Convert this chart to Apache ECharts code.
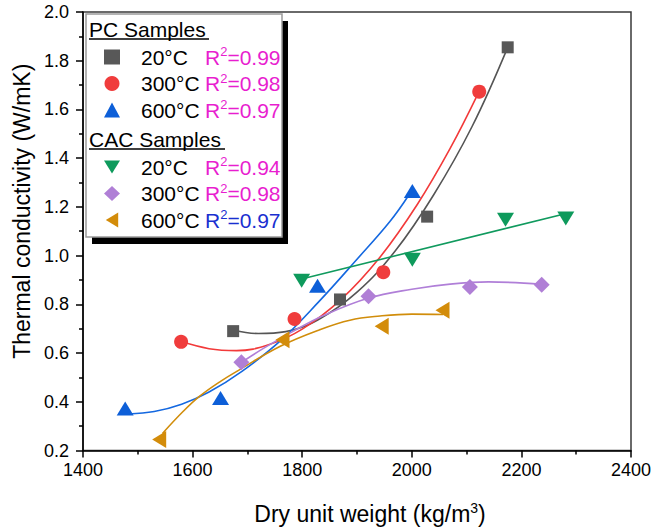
<!DOCTYPE html>
<html>
<head>
<meta charset="utf-8">
<script src="https://cdn.jsdelivr.net/npm/echarts@6/dist/echarts.min.js"></script>
<style>html,body{margin:0;padding:0;background:#fff;}#c{width:657px;height:530px;}</style>
</head>
<body>
<div id="c"></div>
<script>
// ---- measured points ----
var pc20X = [1674, 1869, 2028, 2175];
var pc20Y = [0.69, 0.82, 1.16, 1.855];
var pc300X = [1579, 1786, 1948, 2123];
var pc300Y = [0.646, 0.74, 0.932, 1.673];
var pc600X = [1477, 1651, 1828, 2001];
var pc600Y = [0.372, 0.415, 0.876, 1.265];
var cac20X = [1799, 2001, 2171, 2281];
var cac20Y = [0.897, 0.983, 1.147, 1.152];
var cac300X = [1689, 1921, 2106, 2237];
var cac300Y = [0.562, 0.833, 0.871, 0.88];
var cac600X = [1539, 1764, 1945, 2056];
var cac600Y = [0.245, 0.655, 0.71, 0.776];

// ---- fit curves ----
var pc20FitX = [1675, 1720, 1770, 1830, 1900, 1970, 2040, 2110, 2175];
var pc20FitY = [0.695, 0.68, 0.688, 0.738, 0.85, 1.02, 1.25, 1.53, 1.855];
var pc300FitX = [1578, 1630, 1680, 1740, 1800, 1870, 1940, 2010, 2070, 2122];
var pc300FitY = [0.648, 0.618, 0.61, 0.635, 0.698, 0.818, 0.988, 1.21, 1.44, 1.67];
var pc600FitX = [1483, 1530, 1580, 1630, 1690, 1760, 1830, 1900, 1960, 1995];
var pc600FitY = [0.35, 0.36, 0.39, 0.44, 0.525, 0.65, 0.81, 0.985, 1.14, 1.25];
var cac20FitX = [1797, 2280];
var cac20FitY = [0.903, 1.172];
var cac300FitX = [1688, 1730, 1780, 1840, 1920, 2000, 2070, 2140, 2237];
var cac300FitY = [0.56, 0.62, 0.685, 0.755, 0.825, 0.862, 0.883, 0.892, 0.882];
var cac600FitX = [1545, 1583, 1613, 1651, 1686, 1760, 1832, 1887, 1942, 2000, 2057];
var cac600FitY = [0.27, 0.361, 0.423, 0.484, 0.532, 0.628, 0.696, 0.735, 0.752, 0.76, 0.758];

// ---- legend texts ----
var seriesNames = ['PC 20°C', 'PC 300°C', 'PC 600°C', 'CAC 20°C', 'CAC 300°C', 'CAC 600°C'];
var tempLabels = ['20°C', '300°C', '600°C', '20°C', '300°C', '600°C'];
var r2Labels = ['0.99', '0.98', '0.97', '0.94', '0.98', '0.97'];
var r2Blue = [false, false, false, false, false, true];

// ---- ticks ----
var xTicks = {min: 1400, max: 2400, interval: 200};
var yTicks = {min: 0.2, max: 2.0, interval: 0.2};

var FONT = 'Liberation Sans, Arial, sans-serif';
var MAG = '#e81ecf';
var BLU = '#1a2fd0';

function zip(xs, ys) { return xs.map(function (x, i) { return [x, ys[i]]; }); }

var colors = ['#585858', '#f03c3c', '#0d5fd8', '#0e9a5c', '#b07fd6', '#d38c0a'];
var lineColors = ['#555555', '#f23a3a', '#1468e0', '#109a5e', '#b07fd8', '#d18d0b'];
var symbols = ['rect', 'circle', 'triangle', 'triangle', 'diamond', 'triangle'];
var sizes = [[12, 12], [14, 14], [17, 14], [17, 14], [16, 16], [17, 14]];
var rotates = [0, 0, 0, 180, 0, 90];
var legendIcons = ['rect', 'circle', 'triangle', 'path://M0,0L17,0L8.5,14Z', 'diamond', 'path://M14,0L14,17L0,8.5Z'];
var pts = [zip(pc20X, pc20Y), zip(pc300X, pc300Y), zip(pc600X, pc600Y), zip(cac20X, cac20Y), zip(cac300X, cac300Y), zip(cac600X, cac600Y)];
var fits = [zip(pc20FitX, pc20FitY), zip(pc300FitX, pc300FitY), zip(pc600FitX, pc600FitY), zip(cac20FitX, cac20FitY), zip(cac300FitX, cac300FitY), zip(cac600FitX, cac600FitY)];

var series = [];
fits.forEach(function (d, i) {
  series.push({
    name: seriesNames[i] + ' fit', type: 'line', data: d, smooth: i === 3 ? false : 0.4,
    showSymbol: false, silent: true, z: 2,
    lineStyle: {color: lineColors[i], width: 1.6}
  });
});
pts.forEach(function (d, i) {
  series.push({
    name: seriesNames[i], type: 'scatter', data: d, symbol: symbols[i],
    symbolSize: sizes[i], symbolRotate: rotates[i], z: 3,
    itemStyle: {color: colors[i], opacity: 1}
  });
});

function fmt(name) {
  var i = seriesNames.indexOf(name);
  var b = r2Blue[i];
  return '{p| }{n|' + tempLabels[i] + '}{' + (b ? 'rb' : 'r') + '|R}{' + (b ? 'sb' : 's') + '|2}{' + (b ? 'rb' : 'r') + '|=' + r2Labels[i] + '}';
}
var rich = {
  p: {fontFamily: FONT, fontSize: 21, width: 16, lineHeight: 24},
  n: {fontFamily: FONT, fontSize: 21, color: '#000', width: 64, lineHeight: 24},
  r: {fontFamily: FONT, fontSize: 21, color: MAG, lineHeight: 24},
  s: {fontFamily: FONT, fontSize: 13, color: MAG, lineHeight: 14, verticalAlign: 'top'},
  rb: {fontFamily: FONT, fontSize: 21, color: BLU, lineHeight: 24},
  sb: {fontFamily: FONT, fontSize: 13, color: BLU, lineHeight: 14, verticalAlign: 'top'}
};
function legendCfg(from, to, top) {
  var data = [];
  for (var i = from; i < to; i++) {
    data.push({name: seriesNames[i], icon: legendIcons[i], itemStyle: {color: colors[i]}});
  }
  return {
    data: data, orient: 'vertical', left: 104, top: top, padding: 0,
    itemWidth: 16, itemHeight: 15, itemGap: 4, selectedMode: false, z: 200,
    formatter: fmt, textStyle: {fontFamily: FONT, fontSize: 21, rich: rich}
  };
}

var option = {
  animation: false,
  backgroundColor: '#fff',
  grid: {left: 83, top: 12, right: 26, bottom: 79, show: true, borderColor: '#3a3a3a', borderWidth: 1.5, backgroundColor: 'transparent'},
  xAxis: {
    type: 'value', min: xTicks.min, max: xTicks.max, interval: xTicks.interval,
    name: '{a|Dry unit weight (kg/m}{b|3}{a|)}', nameLocation: 'middle', nameGap: 50,
    nameTextStyle: {padding: [0, 0, 0, 26], rich: {a: {fontFamily: FONT, fontSize: 23, color: '#000', lineHeight: 26}, b: {fontFamily: FONT, fontSize: 14, color: '#000', lineHeight: 14, verticalAlign: 'top'}}},
    axisLine: {lineStyle: {color: '#000', width: 1.5}},
    axisTick: {length: 7, lineStyle: {color: '#000', width: 1.5}},
    minorTick: {show: true, splitNumber: 2, length: 4, lineStyle: {color: '#000', width: 1.5}},
    splitLine: {show: false},
    axisLabel: {fontFamily: FONT, fontSize: 18, color: '#000', margin: 10, formatter: function (v) { return String(v); }}
  },
  yAxis: {
    type: 'value', min: yTicks.min, max: yTicks.max, interval: yTicks.interval,
    name: 'Thermal conductivity (W/mK)', nameLocation: 'middle', nameGap: 35,
    nameTextStyle: {fontFamily: FONT, fontSize: 23, color: '#000', padding: [0, 0, 0, 40]},
    axisLine: {lineStyle: {color: '#000', width: 1.5}},
    axisTick: {length: 7, lineStyle: {color: '#000', width: 1.5}},
    minorTick: {show: true, splitNumber: 2, length: 4, lineStyle: {color: '#000', width: 1.5}},
    splitLine: {show: false},
    axisLabel: {fontFamily: FONT, fontSize: 18, color: '#000', margin: 14, formatter: function (v) { return v.toFixed(1); }}
  },
  legend: [legendCfg(0, 3, 45), legendCfg(3, 6, 155)],
  graphic: [
    {type: 'rect', z: 100, shape: {x: 92, y: 21, width: 196, height: 223}, style: {fill: '#000'}},
    {type: 'rect', z: 101, shape: {x: 86, y: 14, width: 196, height: 223}, style: {fill: '#fff', stroke: '#9a9a9a', lineWidth: 1.5}},
    {type: 'text', z: 102, x: 89, y: 29, style: {text: 'PC Samples', font: '21px ' + FONT, fill: '#000', verticalAlign: 'middle'}},
    {type: 'line', z: 102, shape: {x1: 89, y1: 39, x2: 209, y2: 39}, style: {stroke: '#000', lineWidth: 1.5}},
    {type: 'text', z: 102, x: 89, y: 139, style: {text: 'CAC Samples', font: '21px ' + FONT, fill: '#000', verticalAlign: 'middle'}},
    {type: 'line', z: 102, shape: {x1: 89, y1: 149, x2: 225, y2: 149}, style: {stroke: '#000', lineWidth: 1.5}}
  ],
  series: series
};
var chart = echarts.init(document.getElementById('c'), null, {renderer: 'svg'});
chart.setOption(option);
</script>
</body>
</html>
